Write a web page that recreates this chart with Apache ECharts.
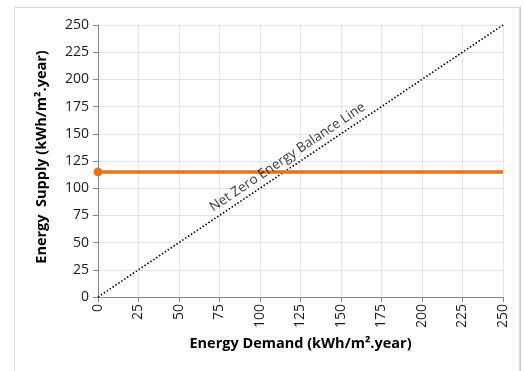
<!DOCTYPE html>
<html><head><meta charset="utf-8">
<script src="https://cdn.jsdelivr.net/npm/echarts@6/dist/echarts.min.js"></script>
<style>
html,body{margin:0;padding:0;background:#fff;overflow:hidden}
#frame{position:absolute;left:14px;top:7px;width:504px;height:400px;border:1px solid #d9d9d9;box-shadow:1px 0 1px #ccc}
#c{position:absolute;left:0;top:0;width:525px;height:371px}
</style></head>
<body>
<div id="frame"></div>
<div id="c"></div>
<script>
const axisTicks = [0,25,50,75,100,125,150,175,200,225,250];
const supplyX = [0, 250];
const supplyY = [115, 115];
const balanceX = [0, 250];
const balanceY = [0, 250];
const balanceLabel = 'Net Zero Energy Balance Line';
const balanceLabelPos = [117, 128.5];
const xTitle = 'Energy Demand (kWh/m².year)';
const yTitle = 'Energy  Supply (kWh/m².year)';

const font = 'Open Sans';
const chart = echarts.init(document.getElementById('c'));
chart.setOption({
  animation:false,
  grid:{left:98,right:22,top:25,bottom:74,containLabel:false},
  xAxis:{type:'value',min:0,max:250,interval:25,
    name:xTitle,nameLocation:'middle',nameGap:38,
    nameTextStyle:{fontFamily:font,fontWeight:'bold',fontSize:14.5,color:'#000'},
    axisLine:{show:true,lineStyle:{color:'#868686'}},
    axisTick:{show:true,length:5,lineStyle:{color:'#868686'}},
    axisLabel:{rotate:90,fontFamily:font,fontSize:14,color:'#1a1a1a',margin:7},
    splitLine:{show:true,lineStyle:{color:'#e4e4e4'}}},
  yAxis:{type:'value',min:0,max:250,interval:25,
    name:yTitle,nameLocation:'middle',nameGap:49,nameRotate:90,
    nameTextStyle:{fontFamily:font,fontWeight:'bold',fontSize:14.5,color:'#000',padding:[0,0,0,8]},
    axisLine:{show:true,lineStyle:{color:'#868686'}},
    axisTick:{show:true,length:5,lineStyle:{color:'#868686'}},
    axisLabel:{fontFamily:font,fontSize:14,color:'#1a1a1a',margin:9},
    splitLine:{show:true,lineStyle:{color:'#e4e4e4'}}},
  series:[
    {type:'line',data:balanceX.map((x,i)=>[x,balanceY[i]]),showSymbol:false,symbol:'none',
     lineStyle:{type:[1.5,2],color:'#000',width:1.6},z:3},
    {type:'line',data:supplyX.map((x,i)=>({value:[x,supplyY[i]],symbolSize:i===0?9:0})),
     symbol:'circle',showSymbol:true,
     itemStyle:{color:'#E8731C'},
     lineStyle:{color:'#E8731C',width:3.5},z:4},
    {type:'scatter',data:[balanceLabelPos],symbolSize:0,z:5,
     label:{show:true,position:'inside',formatter:balanceLabel,rotate:33.9,
       fontFamily:font,fontSize:13.5,color:'#000'}}
  ]
});
</script>
</body></html>
